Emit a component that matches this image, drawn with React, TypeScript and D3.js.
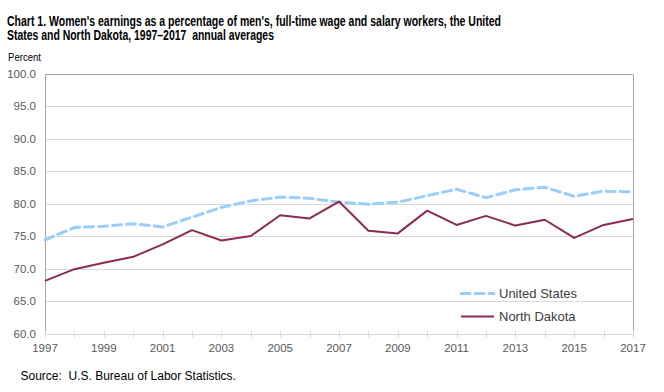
import React, { useEffect, useRef } from "react";
import * as d3 from "d3";

const years = [1997, 1998, 1999, 2000, 2001, 2002, 2003, 2004, 2005, 2006, 2007, 2008, 2009, 2010, 2011, 2012, 2013, 2014, 2015, 2016, 2017];
const unitedStates = [74.4, 76.3, 76.5, 76.9, 76.4, 77.9, 79.4, 80.4, 81.0, 80.8, 80.2, 79.9, 80.2, 81.2, 82.2, 80.9, 82.1, 82.5, 81.1, 81.9, 81.8];
const northDakota = [68.1, 69.9, 70.9, 71.8, 73.7, 75.9, 74.3, 75.0, 78.2, 77.7, 80.3, 75.8, 75.4, 78.9, 76.7, 78.1, 76.6, 77.5, 74.7, 76.7, 77.6];
const yTicks = [60, 65, 70, 75, 80, 85, 90, 95, 100];
const xLabels = [1997, 1999, 2001, 2003, 2005, 2007, 2009, 2011, 2013, 2015, 2017];

const titleLines = [
  { text: "Chart 1. Women's earnings as a percentage of men's, full-time wage and salary workers, the United", len: 494 },
  { text: "States and North Dakota, 1997\u20132017  annual averages", len: 267 },
];

export default function App() {
  const svgRef = useRef<SVGSVGElement | null>(null);

  useEffect(() => {
    const width = 664;
    const height = 392;
    const svg = d3.select(svgRef.current).attr("width", width).attr("height", height);
    svg.selectAll("*").remove();

    const left = 45, right = 633, top = 73.5, bottom = 333.5;
    const x = d3.scaleLinear().domain([1997, 2017]).range([left, right]);
    const y = d3.scaleLinear().domain([60, 100]).range([bottom, top]);

    // --- Title: narrow bold face, drawn small and stretched vertically ---
    const sy = 1.38;
    svg.append("g")
      .attr("transform", `scale(1,${sy})`)
      .selectAll("text")
      .data(titleLines)
      .join("text")
      .attr("x", 7)
      .attr("y", (d, i) => (25.7 + i * 14.4) / sy)
      .attr("font-family", "'Liberation Sans', Arial, sans-serif")
      .attr("font-weight", "bold")
      .attr("font-size", 10.5)
      .attr("fill", "#000")
      .attr("textLength", d => d.len)
      .attr("lengthAdjust", "spacingAndGlyphs")
      .style("white-space", "pre")
      .text(d => d.text);

    svg.append("text")
      .attr("x", 8)
      .attr("y", 61)
      .attr("font-family", "'Liberation Sans', Arial, sans-serif")
      .attr("font-size", 11.5)
      .attr("fill", "#000")
      .attr("textLength", 33)
      .attr("lengthAdjust", "spacingAndGlyphs")
      .text("Percent");

    // --- Grid ---
    svg.append("g")
      .selectAll("line")
      .data(yTicks.filter(t => t > 60))
      .join("line")
      .attr("x1", left)
      .attr("x2", right)
      .attr("y1", d => Math.round(y(d)) + 0.5)
      .attr("y2", d => Math.round(y(d)) + 0.5)
      .attr("stroke", d => (d === 100 ? "#a6a6a6" : "#d9d9d9"))
      .attr("stroke-width", 1);

    // right border + left axis
    svg.append("line")
      .attr("x1", Math.round(right) + 0.5).attr("x2", Math.round(right) + 0.5)
      .attr("y1", Math.round(top) + 0.5).attr("y2", Math.round(bottom) + 0.5)
      .attr("stroke", "#a6a6a6");
    svg.append("line")
      .attr("x1", left + 0.5).attr("x2", left + 0.5)
      .attr("y1", Math.round(top) + 0.5).attr("y2", Math.round(bottom) + 0.5)
      .attr("stroke", "#a6a6a6");

    // --- Y labels ---
    svg.append("g")
      .selectAll("text")
      .data(yTicks)
      .join("text")
      .attr("x", 36)
      .attr("y", d => y(d) + 4)
      .attr("text-anchor", "end")
      .attr("font-family", "'Liberation Sans', Arial, sans-serif")
      .attr("font-size", 11.5)
      .attr("fill", "#595959")
      .text(d => d.toFixed(1));

    // --- X axis ---
    const xAxis = svg.append("g");
    xAxis.append("line")
      .attr("x1", left).attr("x2", right)
      .attr("y1", Math.round(bottom) + 0.5).attr("y2", Math.round(bottom) + 0.5)
      .attr("stroke", "#d9d9d9");
    xAxis.selectAll("line.tick")
      .data(years)
      .join("line")
      .attr("class", "tick")
      .attr("x1", d => Math.round(x(d)) + 0.5)
      .attr("x2", d => Math.round(x(d)) + 0.5)
      .attr("y1", bottom - 3)
      .attr("y2", bottom + 4)
      .attr("stroke", "#d9d9d9");
    xAxis.selectAll("text")
      .data(xLabels)
      .join("text")
      .attr("x", d => x(d))
      .attr("y", 351.5)
      .attr("text-anchor", "middle")
      .attr("font-family", "'Liberation Sans', Arial, sans-serif")
      .attr("font-size", 11.5)
      .attr("fill", "#595959")
      .text(d => d);

    // --- Lines ---
    const line = d3.line<number>().x((d, i) => x(years[i])).y(d => y(d));

    svg.append("path")
      .datum(unitedStates)
      .attr("d", line)
      .attr("fill", "none")
      .attr("stroke", "#99ccff")
      .attr("stroke-width", 3)
      .attr("stroke-dasharray", "9,5")
      .attr("stroke-linecap", "round");

    svg.append("path")
      .datum(northDakota)
      .attr("d", line)
      .attr("fill", "none")
      .attr("stroke", "#8b2a56")
      .attr("stroke-width", 2)
      .attr("stroke-linejoin", "round");

    // --- Legend ---
    const legend = [
      { name: "United States", color: "#99ccff", w: 3, dash: "9,5", cap: "round", yy: 293.5 },
      { name: "North Dakota", color: "#8b2a56", w: 2, dash: null, cap: "butt", yy: 316.5 },
    ];
    const lg = svg.append("g").selectAll("g").data(legend).join("g");
    lg.append("line")
      .attr("x1", 461).attr("x2", 494)
      .attr("y1", d => d.yy).attr("y2", d => d.yy)
      .attr("stroke", d => d.color)
      .attr("stroke-width", d => d.w)
      .attr("stroke-dasharray", d => d.dash)
      .attr("stroke-linecap", d => d.cap);
    lg.append("text")
      .attr("x", 499)
      .attr("y", d => d.yy + 4.5)
      .attr("font-family", "'Liberation Sans', Arial, sans-serif")
      .attr("font-size", 13)
      .attr("fill", "#404040")
      .text(d => d.name);

    // --- Source ---
    svg.append("text")
      .attr("x", 20.5)
      .attr("y", 380)
      .attr("font-family", "'Liberation Sans', Arial, sans-serif")
      .attr("font-size", 12)
      .attr("fill", "#000")
      .style("white-space", "pre")
      .text("Source:  U.S. Bureau of Labor Statistics.");
  }, []);

  return <svg ref={svgRef} style={{ position: "absolute", left: 0, top: 0 }}></svg>;
}
